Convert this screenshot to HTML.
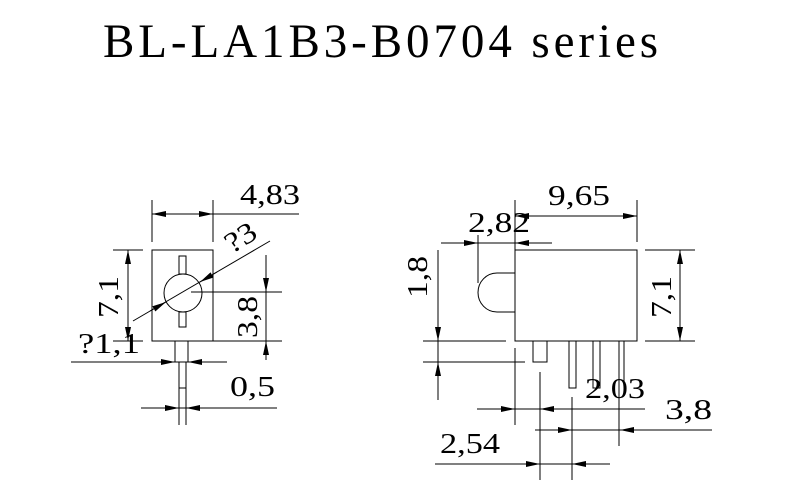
<!DOCTYPE html>
<html><head><meta charset="utf-8"><style>
html,body{margin:0;padding:0;background:#fff;}
svg{display:block;}
text{font-family:"Liberation Serif",serif;fill:#000;}
</style></head><body>
<svg width="800" height="500" viewBox="0 0 800 500" xmlns="http://www.w3.org/2000/svg">
<defs>
<marker id="a" viewBox="0 0 14 6" refX="14" refY="3" markerWidth="14" markerHeight="6" markerUnits="userSpaceOnUse" orient="auto"><path d="M0,0 L14,3 L0,6 Z" fill="#000"/></marker>
</defs>
<text x="103" y="57" font-size="48" textLength="559" lengthAdjust="spacingAndGlyphs" style="letter-spacing:4px">BL-LA1B3-B0704 series</text>

<g stroke="#000" stroke-width="1" fill="none">
<!-- LEFT VIEW -->
<rect x="152" y="250" width="61" height="91"/>
<circle cx="183" cy="293" r="19" fill="#fff"/>
<rect x="179" y="256" width="7" height="18" fill="#fff"/>
<rect x="179" y="312" width="7" height="15" fill="#fff"/>
<line x1="175" y1="341" x2="175" y2="362"/>
<line x1="188" y1="341" x2="188" y2="362"/>
<rect x="179" y="362" width="7" height="26"/>
<line x1="152" y1="200" x2="152" y2="242"/>
<line x1="213" y1="200" x2="213" y2="242"/>
<line x1="152" y1="214" x2="299" y2="214"/>
<line x1="175" y1="214" x2="152" y2="214" marker-end="url(#a)"/>
<line x1="195" y1="214" x2="213" y2="214" marker-end="url(#a)"/>
<line x1="133" y1="321" x2="270" y2="241"/>
<line x1="150" y1="311" x2="166" y2="302" marker-end="url(#a)"/>
<line x1="217" y1="272" x2="200" y2="282" marker-end="url(#a)"/>
<line x1="113" y1="250" x2="143" y2="250"/>
<line x1="113" y1="341" x2="143" y2="341"/>
<line x1="128" y1="270" x2="128" y2="250" marker-end="url(#a)"/>
<line x1="128" y1="320" x2="128" y2="341" marker-end="url(#a)"/>
<line x1="128" y1="250" x2="128" y2="341"/>
<line x1="191" y1="292" x2="282" y2="292"/>
<line x1="213" y1="341" x2="282" y2="341"/>
<line x1="266" y1="255" x2="266" y2="360"/>
<line x1="266" y1="270" x2="266" y2="292" marker-end="url(#a)"/>
<line x1="266" y1="360" x2="266" y2="341" marker-end="url(#a)"/>
<line x1="71" y1="362" x2="227" y2="362"/>
<line x1="155" y1="362" x2="175" y2="362" marker-end="url(#a)"/>
<line x1="208" y1="362" x2="188" y2="362" marker-end="url(#a)"/>
<line x1="179" y1="388" x2="179" y2="425"/>
<line x1="186" y1="388" x2="186" y2="425"/>
<line x1="141" y1="408" x2="277" y2="408"/>
<line x1="160" y1="408" x2="179" y2="408" marker-end="url(#a)"/>
<line x1="205" y1="408" x2="186" y2="408" marker-end="url(#a)"/>

<!-- RIGHT VIEW -->
<rect x="515" y="250" width="122" height="91"/>
<path d="M515,273 H497 A19,19.5 0 0 0 497,312 H515"/>
<rect x="533" y="341" width="14" height="21"/>
<path d="M569,341 V388 H576 V341"/>
<path d="M593,341 V388 H600 V341"/>
<line x1="624" y1="341" x2="624" y2="392"/>
<line x1="619" y1="341" x2="619" y2="446"/>
<line x1="515" y1="200" x2="515" y2="250"/>
<line x1="637" y1="200" x2="637" y2="242"/>
<line x1="515" y1="216" x2="637" y2="216"/>
<line x1="535" y1="216" x2="515" y2="216" marker-end="url(#a)"/>
<line x1="617" y1="216" x2="637" y2="216" marker-end="url(#a)"/>
<line x1="478" y1="235" x2="478" y2="283"/>
<line x1="441" y1="243" x2="552" y2="243"/>
<line x1="460" y1="243" x2="478" y2="243" marker-end="url(#a)"/>
<line x1="533" y1="243" x2="515" y2="243" marker-end="url(#a)"/>
<line x1="423" y1="341" x2="506" y2="341"/>
<line x1="423" y1="362" x2="525" y2="362"/>
<line x1="438" y1="250" x2="438" y2="400"/>
<line x1="438" y1="322" x2="438" y2="341" marker-end="url(#a)"/>
<line x1="438" y1="382" x2="438" y2="362" marker-end="url(#a)"/>
<line x1="645" y1="250" x2="695" y2="250"/>
<line x1="645" y1="341" x2="695" y2="341"/>
<line x1="680" y1="250" x2="680" y2="341"/>
<line x1="680" y1="270" x2="680" y2="250" marker-end="url(#a)"/>
<line x1="680" y1="321" x2="680" y2="341" marker-end="url(#a)"/>
<line x1="515" y1="348" x2="515" y2="425"/>
<line x1="540" y1="372" x2="540" y2="480"/>
<line x1="477" y1="409" x2="645" y2="409"/>
<line x1="496" y1="409" x2="515" y2="409" marker-end="url(#a)"/>
<line x1="559" y1="409" x2="540" y2="409" marker-end="url(#a)"/>
<line x1="572" y1="397" x2="572" y2="480"/>
<line x1="535" y1="430" x2="712" y2="430"/>
<line x1="553" y1="430" x2="572" y2="430" marker-end="url(#a)"/>
<line x1="639" y1="430" x2="620" y2="430" marker-end="url(#a)"/>
<line x1="435" y1="464" x2="610" y2="464"/>
<line x1="520" y1="464" x2="540" y2="464" marker-end="url(#a)"/>
<line x1="592" y1="464" x2="572" y2="464" marker-end="url(#a)"/>
</g>

<g font-size="29">
<text x="240" y="204" textLength="60" lengthAdjust="spacingAndGlyphs">4,83</text>
<text x="0" y="0" textLength="32" lengthAdjust="spacingAndGlyphs" transform="translate(232,254) rotate(-32)">?3</text>
<text x="0" y="0" textLength="42" lengthAdjust="spacingAndGlyphs" transform="translate(118,318) rotate(-90)">7,1</text>
<text x="0" y="0" textLength="42" lengthAdjust="spacingAndGlyphs" transform="translate(257,338) rotate(-90)">3,8</text>
<text x="78" y="353" textLength="62" lengthAdjust="spacingAndGlyphs">?1,1</text>
<text x="230" y="396" textLength="45" lengthAdjust="spacingAndGlyphs">0,5</text>
<text x="548" y="205" textLength="62" lengthAdjust="spacingAndGlyphs">9,65</text>
<text x="468" y="232" textLength="62" lengthAdjust="spacingAndGlyphs">2,82</text>
<text x="0" y="0" textLength="42" lengthAdjust="spacingAndGlyphs" transform="translate(427,298) rotate(-90)">1,8</text>
<text x="0" y="0" textLength="42" lengthAdjust="spacingAndGlyphs" transform="translate(671,318) rotate(-90)">7,1</text>
<text x="585" y="398" textLength="60" lengthAdjust="spacingAndGlyphs">2,03</text>
<text x="665" y="419" textLength="47" lengthAdjust="spacingAndGlyphs">3,8</text>
<text x="440" y="453" textLength="60" lengthAdjust="spacingAndGlyphs">2,54</text>
</g>
</svg>
</body></html>
